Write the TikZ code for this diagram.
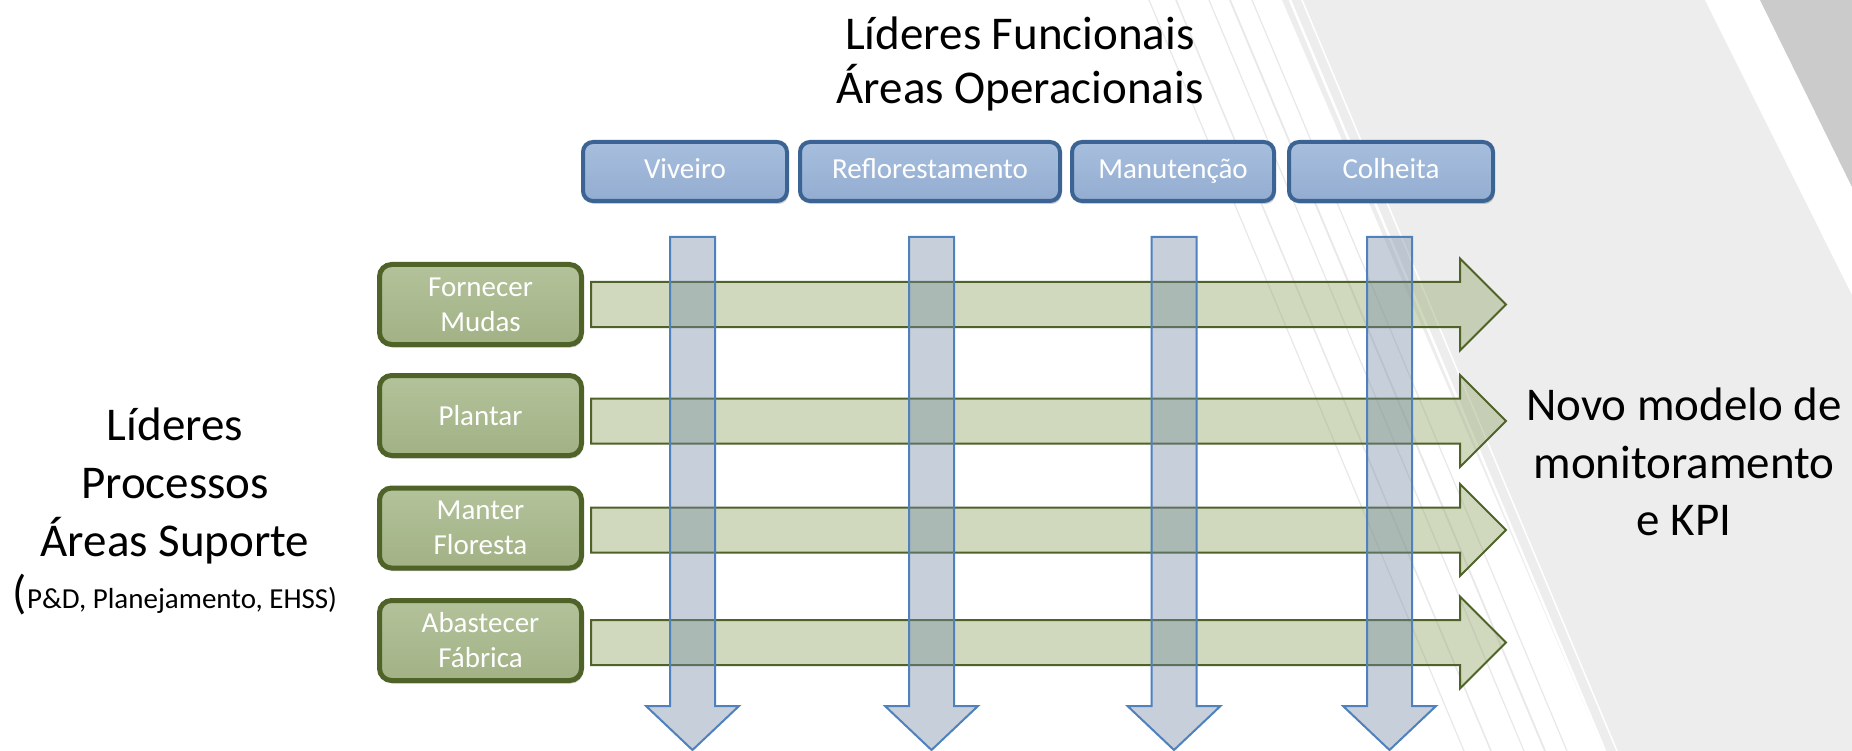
\documentclass[tikz,border=0pt]{standalone}
\usepackage{fontspec}
\setmainfont{Carlito}
\usetikzlibrary{calc,shadows}

\definecolor{bggray}{HTML}{EDEDED}
\definecolor{cornergray}{HTML}{CBCBCB}
\definecolor{streak}{HTML}{E8E8E8}
\definecolor{funcline}{HTML}{3B6393}
\definecolor{functop}{HTML}{A7BEDD}
\definecolor{funcbot}{HTML}{93ADD1}
\definecolor{procline}{HTML}{4F6228}
\definecolor{proctop}{HTML}{B3C29A}
\definecolor{procbot}{HTML}{A2B285}
\definecolor{flowfill}{HTML}{97AB71}
\definecolor{flowline}{HTML}{4F6228}
\definecolor{colfill}{HTML}{7589A7}
\definecolor{colline}{HTML}{4F81BD}

% horizontal block arrow from #1 to tip #2
\newcommand\hblock[2]{%
  \draw[flowarrow] ($(#1)+(0,-22.5)$) -- ($(#2)+(-46,-22.5)$) -- ($(#2)+(-46,-46)$)
    -- (#2) -- ($(#2)+(-46,46)$) -- ($(#2)+(-46,22.5)$) -- ($(#1)+(0,22.5)$) -- cycle;}
% vertical block arrow from #1 down to tip #2
\newcommand\vblock[2]{%
  \draw[colarrow] ($(#1)+(-22.5,0)$) -- ($(#2)+(-22.5,-44)$) -- ($(#2)+(-46.5,-44)$)
    -- (#2) -- ($(#2)+(46.5,-44)$) -- ($(#2)+(22.5,-44)$) -- ($(#1)+(22.5,0)$) -- cycle;}

\begin{document}
\begin{tikzpicture}[x=1pt,y=-1pt,
  bigtext/.style={font=\fontsize{47}{56}\selectfont, inner sep=0, anchor=base},
  funcbox/.style={draw=funcline, line width=4, rounded corners=10,
    top color=functop, bottom color=funcbot, text=white,
    font=\fontsize{29}{35}\selectfont, inner sep=0, minimum height=59,
    text height=20, text depth=6,
    drop shadow={shadow xshift=1.5pt, shadow yshift=-3pt, opacity=0.2, fill=black}},
  procbox/.style={draw=procline, line width=5, rounded corners=12,
    top color=proctop, bottom color=procbot, text=white, align=center,
    font=\fontsize{29}{35}\selectfont, inner sep=0, minimum width=202, minimum height=80,
    drop shadow={shadow xshift=1.5pt, shadow yshift=-3pt, opacity=0.2, fill=black}},
  flowarrow/.style={draw=flowline, line width=2, fill=flowfill, fill opacity=0.45},
  colarrow/.style={draw=colline, line width=2, fill=colfill, fill opacity=0.4},
]
\useasboundingbox (0,0) rectangle (1852,751);

% backdrop
\fill[white] (0,0) rectangle (1852,751);
\fill[bggray] (1282,0) -- (1852,0) -- (1852,751) -- (1604,751) -- cycle;
\fill[white] (1705,0) -- (1760,0) -- (1852,187) -- (1852,295) -- cycle;
\fill[cornergray] (1760,0) -- (1852,0) -- (1852,187) -- cycle;
\foreach \x/\w in {1149/1.2,1176/1.5,1209/1.2,1230/1.8,1252/1.2}
  \draw[streak, line width=\w] (\x,0) -- ++(315,751);
\foreach \x/\w in {1290/2.5,1302/1.5}
  \draw[white, line width=\w] (\x,0) -- ++(315,751);

% titles
\node[bigtext] (top1) at (1020,50) {Líderes Funcionais};
\node[bigtext] (top2) at (1020,104) {Áreas Operacionais};

\node[bigtext] (left1) at (175,440) {Líderes};
\node[bigtext] (left2) at (175,498) {Processos};
\node[bigtext] (left3) at (175,556) {Áreas Suporte};
\node[inner sep=0, anchor=base] (left4) at (175,608)
  {{\fontsize{47}{56}\selectfont(}{\fontsize{29}{35}\selectfont P\&D, Planejamento, EHSS)}};

\node[bigtext] (right1) at (1684,420) {Novo modelo de};
\node[bigtext] (right2) at (1684,478) {monitoramento};
\node[bigtext] (right3) at (1684,535) {e KPI};

% process rows
\coordinate (h1s) at (591,304.5); \coordinate (h1e) at (1506,304.5);
\coordinate (h2s) at (591,421);   \coordinate (h2e) at (1506,421);
\coordinate (h3s) at (591,530);   \coordinate (h3e) at (1506,530);
\coordinate (h4s) at (591,642.5); \coordinate (h4e) at (1506,642.5);
\hblock{h1s}{h1e}
\hblock{h2s}{h2e}
\hblock{h3s}{h3e}
\hblock{h4s}{h4e}

% functional columns
\coordinate (v1s) at (692.5,237); \coordinate (v1e) at (692.5,750);
\coordinate (v2s) at (931.5,237); \coordinate (v2e) at (931.5,750);
\coordinate (v3s) at (1174,237);  \coordinate (v3e) at (1174,750);
\coordinate (v4s) at (1389.5,237); \coordinate (v4e) at (1389.5,750);
\vblock{v1s}{v1e}
\vblock{v2s}{v2e}
\vblock{v3s}{v3e}
\vblock{v4s}{v4e}

% area boxes
\node[funcbox, minimum width=204] (viv) at (685,171.5) {Viveiro};
\node[funcbox, minimum width=260] (ref) at (930,171.5) {Reflorestamento};
\node[funcbox, minimum width=202] (man) at (1173,171.5) {Manutenção};
\node[funcbox, minimum width=204] (col) at (1391,171.5) {Colheita};

\node[procbox] (p1) at (480.5,304.5) {Fornecer\\Mudas};
\node[procbox] (p2) at (480.5,415.5) {Plantar};
\node[procbox] (p3) at (480.5,528) {Manter\\Floresta};
\node[procbox] (p4) at (480.5,640.5) {Abastecer\\Fábrica};
\end{tikzpicture}
\end{document}
